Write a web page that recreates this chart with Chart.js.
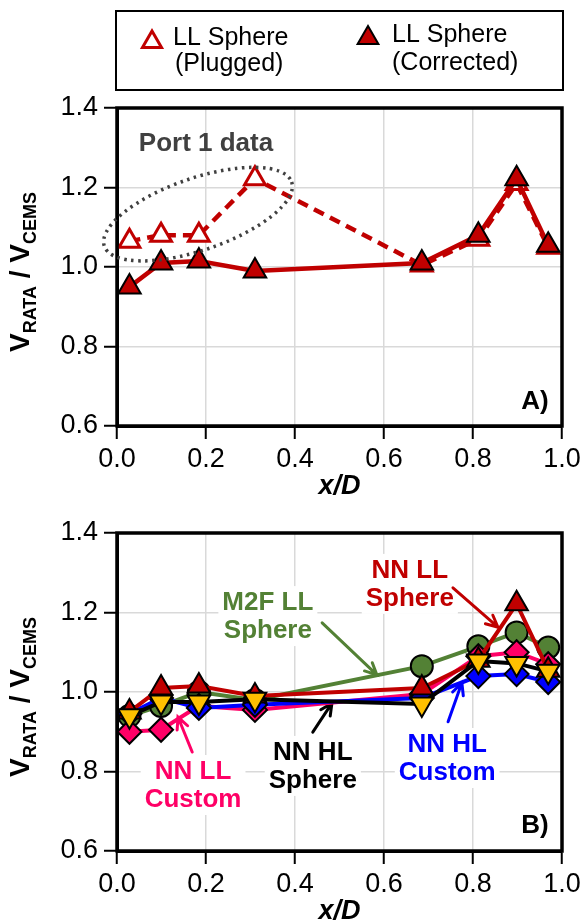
<!DOCTYPE html>
<html>
<head>
<meta charset="utf-8">
<script src="https://cdn.jsdelivr.net/npm/chart.js@4"></script>
<style>
html, body { margin: 0; padding: 0; background: #fff; }
#wrapA { position: absolute; left: 0; top: 0; }
#wrapB { position: absolute; left: 0; top: 505px; }
</style>
</head>
<body>
<div id="wrapA"><canvas id="chartA" width="585" height="505"></canvas></div>
<div id="wrapB"><canvas id="chartB" width="585" height="416"></canvas></div>
<script>
// data
const xOverD = [0.028, 0.099, 0.184, 0.310, 0.685, 0.812, 0.898, 0.969];
const yTicks = [0.6, 0.8, 1.0, 1.2, 1.4];
const xTicks = [0.0, 0.2, 0.4, 0.6, 0.8, 1.0];

// panel A
const llSpherePlugged = [1.065, 1.080, 1.080, 1.222, 1.005, 1.070, 1.210, 1.050];
const llSphereCorrected = [0.950, 1.010, 1.015, 0.990, 1.010, 1.080, 1.222, 1.055];

// panel B
const nnLLSphere = [0.950, 1.010, 1.015, 0.990, 1.010, 1.080, 1.222, 1.055];
const m2fLLSphere = [0.940, 0.965, 1.000, 0.980, 1.065, 1.115, 1.150, 1.112];
const nnHLSphere = [0.940, 0.975, 0.975, 0.982, 0.970, 1.078, 1.072, 1.052];
const nnHLCustom = [0.945, 0.985, 0.960, 0.968, 0.985, 1.040, 1.045, 1.025];
const nnLLCustom = [0.900, 0.905, 0.965, 0.955, 0.995, 1.090, 1.100, 1.070];

const FONT = "'Liberation Sans', Arial, sans-serif";
Chart.defaults.font.family = FONT;
Chart.defaults.color = '#000';

function pts(vals) {
    return vals.map((v, i) => ({ x: xOverD[i], y: v }));
}

// common axes
function makeScales(canvasH, plotBottom) {
    return {
        x: {
            type: 'linear', min: 0, max: 1,
            afterBuildTicks: s => { s.ticks = xTicks.map(v => ({ value: v })); },
            afterFit: s => { s.height = canvasH - plotBottom; },
            ticks: { font: { size: 27 }, padding: 4, callback: v => v.toFixed(1), maxRotation: 0 },
            grid: { color: '#d9d9d9', lineWidth: 1.5, tickColor: '#000', tickWidth: 2, tickLength: 13 },
            border: { color: '#000', width: 3 }
        },
        y: {
            min: 0.6, max: 1.4,
            afterBuildTicks: s => { s.ticks = yTicks.map(v => ({ value: v })); },
            afterFit: s => { s.width = 117; },
            ticks: { font: { size: 27 }, padding: 6, callback: v => v.toFixed(1) },
            grid: { color: '#d9d9d9', lineWidth: 1.5, tickColor: '#000', tickWidth: 2, tickLength: 13 },
            border: { color: '#000', width: 3 }
        }
    };
}

// frame + axis titles
function drawFrame(chart) {
    const ctx = chart.ctx, a = chart.chartArea;
    ctx.save();
    ctx.strokeStyle = '#000';
    ctx.lineWidth = 3.5;
    ctx.strokeRect(a.left, a.top, a.right - a.left, a.bottom - a.top);
    ctx.restore();
}

function drawYTitle(chart) {
    const ctx = chart.ctx, a = chart.chartArea;
    const big = 'bold 28px ' + FONT, small = 'bold 18px ' + FONT;
    const parts = [['V', big, 0], ['RATA', small, 7], [' / V', big, 0], ['CEMS', small, 7]];
    ctx.save();
    let total = 0;
    parts.forEach(p => { ctx.font = p[1]; total += ctx.measureText(p[0]).width; });
    ctx.translate(29, (a.top + a.bottom) / 2 + 5);
    ctx.rotate(-Math.PI / 2);
    ctx.fillStyle = '#000';
    ctx.textBaseline = 'alphabetic';
    let x = -total / 2;
    parts.forEach(p => {
        ctx.font = p[1];
        ctx.fillText(p[0], x, p[2]);
        x += ctx.measureText(p[0]).width;
    });
    ctx.restore();
}

function drawXTitle(chart) {
    const ctx = chart.ctx, a = chart.chartArea;
    ctx.save();
    ctx.font = 'italic bold 27px ' + FONT;
    ctx.fillStyle = '#000';
    ctx.textAlign = 'center';
    ctx.textBaseline = 'alphabetic';
    ctx.fillText('x/D', (a.left + a.right) / 2, a.bottom + 68);
    ctx.restore();
}

function drawLabel(chart, lab) {
    const ctx = chart.ctx;
    const px = chart.scales.x.getPixelForValue(lab.x);
    const py = chart.scales.y.getPixelForValue(lab.y);
    ctx.save();
    ctx.font = 'bold ' + (lab.size || 26) + 'px ' + FONT;
    ctx.textAlign = 'center';
    ctx.textBaseline = 'middle';
    const lh = 28;
    const n = lab.lines.length;
    if (lab.bg) {
        let w = 0;
        lab.lines.forEach(t => { w = Math.max(w, ctx.measureText(t).width); });
        ctx.fillStyle = '#fff';
        ctx.fillRect(px - w / 2 - 4, py - n * lh / 2 - 2, w + 8, n * lh + 4);
    }
    ctx.fillStyle = lab.color;
    lab.lines.forEach((t, i) => {
        ctx.fillText(t, px, py + (i - (n - 1) / 2) * lh + 1);
    });
    ctx.restore();
}

function drawArrow(chart, ar) {
    const ctx = chart.ctx;
    const x0 = chart.scales.x.getPixelForValue(ar.from[0]);
    const y0 = chart.scales.y.getPixelForValue(ar.from[1]);
    const x1 = chart.scales.x.getPixelForValue(ar.to[0]);
    const y1 = chart.scales.y.getPixelForValue(ar.to[1]);
    const ang = Math.atan2(y1 - y0, x1 - x0);
    const hl = 13;
    ctx.save();
    ctx.strokeStyle = ar.color;
    ctx.lineWidth = 3;
    ctx.lineCap = 'round';
    ctx.beginPath();
    ctx.moveTo(x0, y0);
    ctx.lineTo(x1, y1);
    ctx.moveTo(x1 - hl * Math.cos(ang - 0.45), y1 - hl * Math.sin(ang - 0.45));
    ctx.lineTo(x1, y1);
    ctx.lineTo(x1 - hl * Math.cos(ang + 0.45), y1 - hl * Math.sin(ang + 0.45));
    ctx.stroke();
    ctx.restore();
}

function triangle(ctx, x, y, r, fill, stroke, lw) {
    ctx.beginPath();
    for (let k = 0; k < 3; k++) {
        const a = k * 2 * Math.PI / 3;
        const px = x + Math.sin(a) * r, py = y - Math.cos(a) * r;
        if (k === 0) ctx.moveTo(px, py); else ctx.lineTo(px, py);
    }
    ctx.closePath();
    ctx.fillStyle = fill;
    ctx.fill();
    ctx.lineWidth = lw;
    ctx.strokeStyle = stroke;
    ctx.stroke();
}

// ---------- panel A ----------
const panelAPlugin = {
    id: 'panelA',
    afterDraw(chart) {
        const ctx = chart.ctx;
        drawFrame(chart);
        drawYTitle(chart);
        drawXTitle(chart);

        // legend box
        ctx.save();
        ctx.strokeStyle = '#000';
        ctx.lineWidth = 2;
        ctx.strokeRect(116, 11, 447, 79);
        triangle(ctx, 152, 42, 11, '#fff', '#c00000', 3);
        triangle(ctx, 368, 38, 12, '#c00000', '#000', 2);
        ctx.font = '25px ' + FONT;
        ctx.fillStyle = '#000';
        ctx.textBaseline = 'alphabetic';
        ctx.fillText('LL Sphere', 173, 45);
        ctx.fillText('(Plugged)', 175, 71);
        ctx.fillText('LL Sphere', 392, 42);
        ctx.fillText('(Corrected)', 392, 70);
        ctx.restore();

        // dotted ellipse round the port 1 points
        const sx = chart.scales.x, sy = chart.scales.y;
        ctx.save();
        ctx.strokeStyle = '#404040';
        ctx.lineWidth = 3.5;
        ctx.setLineDash([2.5, 4.5]);
        ctx.beginPath();
        ctx.ellipse(sx.getPixelForValue(0.182), sy.getPixelForValue(1.133), 99, 36, -0.33, 0, 2 * Math.PI);
        ctx.stroke();
        ctx.restore();

        drawLabel(chart, { lines: ['Port 1 data'], x: 0.2, y: 1.312, color: '#404040' });
        drawLabel(chart, { lines: ['A)'], x: 0.939, y: 0.663, color: '#000' });
    }
};

new Chart(document.getElementById('chartA'), {
    type: 'line',
    data: {
        datasets: [
            {
                label: 'LL Sphere (Corrected)',
                data: pts(llSphereCorrected),
                borderColor: '#c00000', borderWidth: 4.5,
                pointStyle: 'triangle', pointRadius: 13,
                pointBackgroundColor: '#c00000', pointBorderColor: '#000', pointBorderWidth: 2
            },
            {
                label: 'LL Sphere (Plugged)',
                data: pts(llSpherePlugged),
                borderColor: '#c00000', borderWidth: 4.5, borderDash: [11, 7],
                pointStyle: 'triangle', pointRadius: 12,
                pointBackgroundColor: '#fff', pointBorderColor: '#c00000', pointBorderWidth: 3
            }
        ]
    },
    options: {
        responsive: false,
        animation: false,
        layout: { padding: { top: 108, right: 23, left: 0, bottom: 0 } },
        plugins: { legend: { display: false }, tooltip: { enabled: false } },
        scales: makeScales(505, 426)
    },
    plugins: [panelAPlugin]
});

// ---------- panel B ----------
const panelBLabels = [
    { lines: ['M2F LL', 'Sphere'], x: 0.339, y: 1.191, color: '#538135', bg: true },
    { lines: ['NN LL', 'Sphere'], x: 0.658, y: 1.272, color: '#c00000', bg: true },
    { lines: ['NN LL', 'Custom'], x: 0.171, y: 0.766, color: '#ff0066', bg: true },
    { lines: ['NN HL', 'Sphere'], x: 0.440, y: 0.814, color: '#000', bg: true },
    { lines: ['NN HL', 'Custom'], x: 0.742, y: 0.834, color: '#0000ff', bg: true },
    { lines: ['B)'], x: 0.939, y: 0.665, color: '#000' }
];
const panelBArrows = [
    { from: [0.461, 1.174], to: [0.584, 1.043], color: '#538135' },
    { from: [0.755, 1.262], to: [0.856, 1.163], color: '#c00000' },
    { from: [0.169, 0.849], to: [0.137, 0.937], color: '#ff0066' },
    { from: [0.440, 0.899], to: [0.483, 0.972], color: '#000' },
    { from: [0.744, 0.925], to: [0.775, 1.023], color: '#0000ff' }
];

const panelBPlugin = {
    id: 'panelB',
    beforeDatasetsDraw(chart) {
        panelBLabels.forEach(l => drawLabel(chart, l));
        panelBArrows.forEach(a => drawArrow(chart, a));
    },
    afterDraw(chart) {
        drawFrame(chart);
        drawYTitle(chart);
        drawXTitle(chart);
    }
};

function series(label, vals, color, style, fill, rot, r) {
    return {
        label: label,
        data: pts(vals),
        borderColor: color, borderWidth: 4,
        pointStyle: style, pointRadius: r, pointRotation: rot,
        pointBackgroundColor: fill, pointBorderColor: '#000', pointBorderWidth: 2
    };
}

new Chart(document.getElementById('chartB'), {
    type: 'line',
    data: {
        datasets: [
            series('NN HL Sphere', nnHLSphere, '#000', 'triangle', '#ffc000', 180, 13),
            series('NN LL Sphere', nnLLSphere, '#c00000', 'triangle', '#c00000', 0, 13),
            series('NN HL Custom', nnHLCustom, '#0000ff', 'rectRot', '#0000ff', 0, 12),
            series('NN LL Custom', nnLLCustom, '#ff0066', 'rectRot', '#ff0066', 0, 12),
            series('M2F LL Sphere', m2fLLSphere, '#538135', 'circle', '#538135', 0, 11)
        ]
    },
    options: {
        responsive: false,
        animation: false,
        layout: { padding: { top: 28, right: 23, left: 0, bottom: 0 } },
        plugins: { legend: { display: false }, tooltip: { enabled: false } },
        scales: makeScales(416, 346)
    },
    plugins: [panelBPlugin]
});
</script>
</body>
</html>
